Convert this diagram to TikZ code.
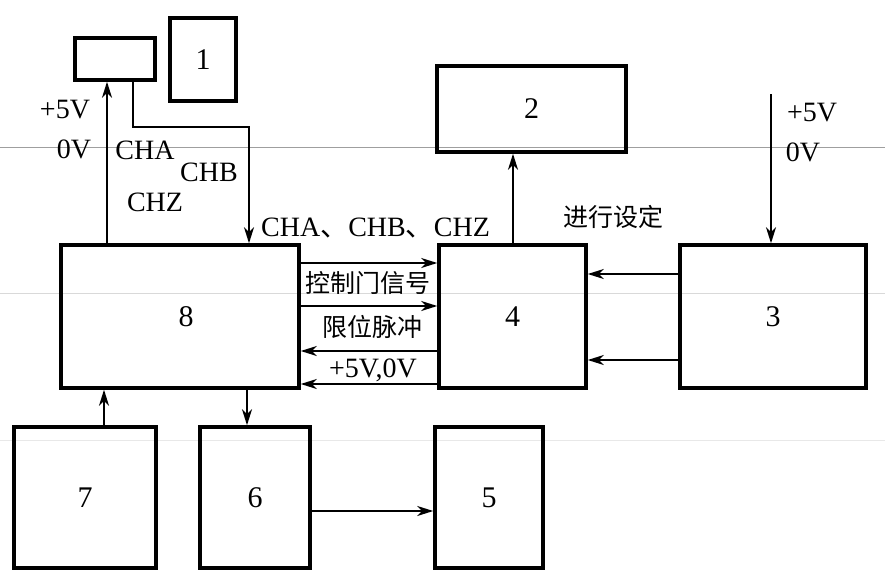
\documentclass[tikz,border=0pt]{standalone}
\usepackage{fontspec}
\setmainfont{Liberation Serif}
\newfontfamily\cjk{Noto Sans CJK SC}
\usetikzlibrary{arrows.meta}
\tikzset{
  blk/.style={draw, line width=3.5pt, inner sep=0pt, font=\fontsize{30}{32}\selectfont},
  conn/.style={line width=1.8pt},
  arr/.style={conn, -{Stealth[length=16pt,width=10pt,inset=5pt]}},
  lbl/.style={inner sep=0pt, font=\fontsize{28}{30}\selectfont},
  clbl/.style={inner sep=0pt, font=\cjk\fontsize{25}{28}\selectfont},
  scan/.style={line width=1pt}
}
\begin{document}
\begin{tikzpicture}[x=1pt,y=-1pt]
\useasboundingbox (0,0) rectangle (885,586);
% scan lines
\draw[scan, gray!75] (0,147) -- (885,147);
\draw[scan, gray!30] (0,293) -- (885,293);
\draw[scan, gray!18] (0,440) -- (885,440);
% boxes
\node[blk, minimum width=80pt, minimum height=42pt] (enc) at (115,59) {};
\node[blk, minimum width=66pt, minimum height=83pt] (b1) at (203,59.5) {1};
\node[blk, minimum width=189pt, minimum height=86pt] (b2) at (531.5,109) {2};
\node[blk, minimum width=238pt, minimum height=143pt] (b8) at (180,316.5) {\hspace*{12pt}8};
\node[blk, minimum width=147pt, minimum height=143pt] (b4) at (512.5,316.5) {4};
\node[blk, minimum width=186pt, minimum height=143pt] (b3) at (773,316.5) {3};
\node[blk, minimum width=142pt, minimum height=141pt] (b7) at (85,497.5) {7};
\node[blk, minimum width=110pt, minimum height=141pt] (b6) at (255,497.5) {6};
\node[blk, minimum width=108pt, minimum height=141pt] (b5) at (489,497.5) {5};
% helper coordinates
\coordinate (xa) at (107,0);
\coordinate (xb) at (133,0);
\coordinate (xc) at (249,0);
\coordinate (yb) at (0,127);
\coordinate (xd) at (513,0);
\coordinate (xe) at (771,0);
\coordinate (ye) at (0,94);
\coordinate (y1) at (0,263);
\coordinate (y2) at (0,306);
\coordinate (y3) at (0,351);
\coordinate (y4) at (0,384);
\coordinate (y5) at (0,274);
\coordinate (y6) at (0,360);
\coordinate (xf) at (104,0);
\coordinate (xg) at (247,0);
\coordinate (y7) at (0,511);
% connectors
\draw[arr] (xa |- b8.north) -- (xa |- enc.south);
\draw[arr] (xb |- enc.south) -- (xb |- yb) -- (xc |- yb) -- (xc |- b8.north);
\draw[arr] (xd |- b4.north) -- (xd |- b2.south);
\draw[arr] (xe |- ye) -- (xe |- b3.north);
\draw[arr] (b3.west |- y5) -- (b4.east |- y5);
\draw[arr] (b3.west |- y6) -- (b4.east |- y6);
\draw[arr] (b8.east |- y1) -- (b4.west |- y1);
\draw[arr] (b8.east |- y2) -- (b4.west |- y2);
\draw[arr] (b4.west |- y3) -- (b8.east |- y3);
\draw[arr] (b4.west |- y4) -- (b8.east |- y4);
\draw[arr] (xf |- b7.north) -- (xf |- b8.south);
\draw[arr] (xg |- b8.south) -- (xg |- b6.north);
\draw[arr] (b6.east |- y7) -- (b5.west |- y7);
% labels
\node[lbl] (t1) at (65,110) {+5V};
\node[lbl] (t2) at (74,149) {0V};
\node[lbl] (t3) at (145,150) {CHA};
\node[lbl] (t4) at (209,172) {CHB};
\node[lbl] (t5) at (155,202) {CHZ};
\node[lbl, anchor=west] (t6) at (261,228) {CHA{\cjk 、}CHB{\cjk 、}CHZ};
\node[clbl] (t7) at (368,283) {控制门信号};
\node[clbl] (t8) at (372,327) {限位脉冲};
\node[lbl] (t9) at (373,370) {+5V,0V};
\node[clbl] (t10) at (613,217) {进行设定};
\node[lbl] (t11) at (812,113) {+5V};
\node[lbl] (t12) at (803,152) {0V};
\end{tikzpicture}
\end{document}
